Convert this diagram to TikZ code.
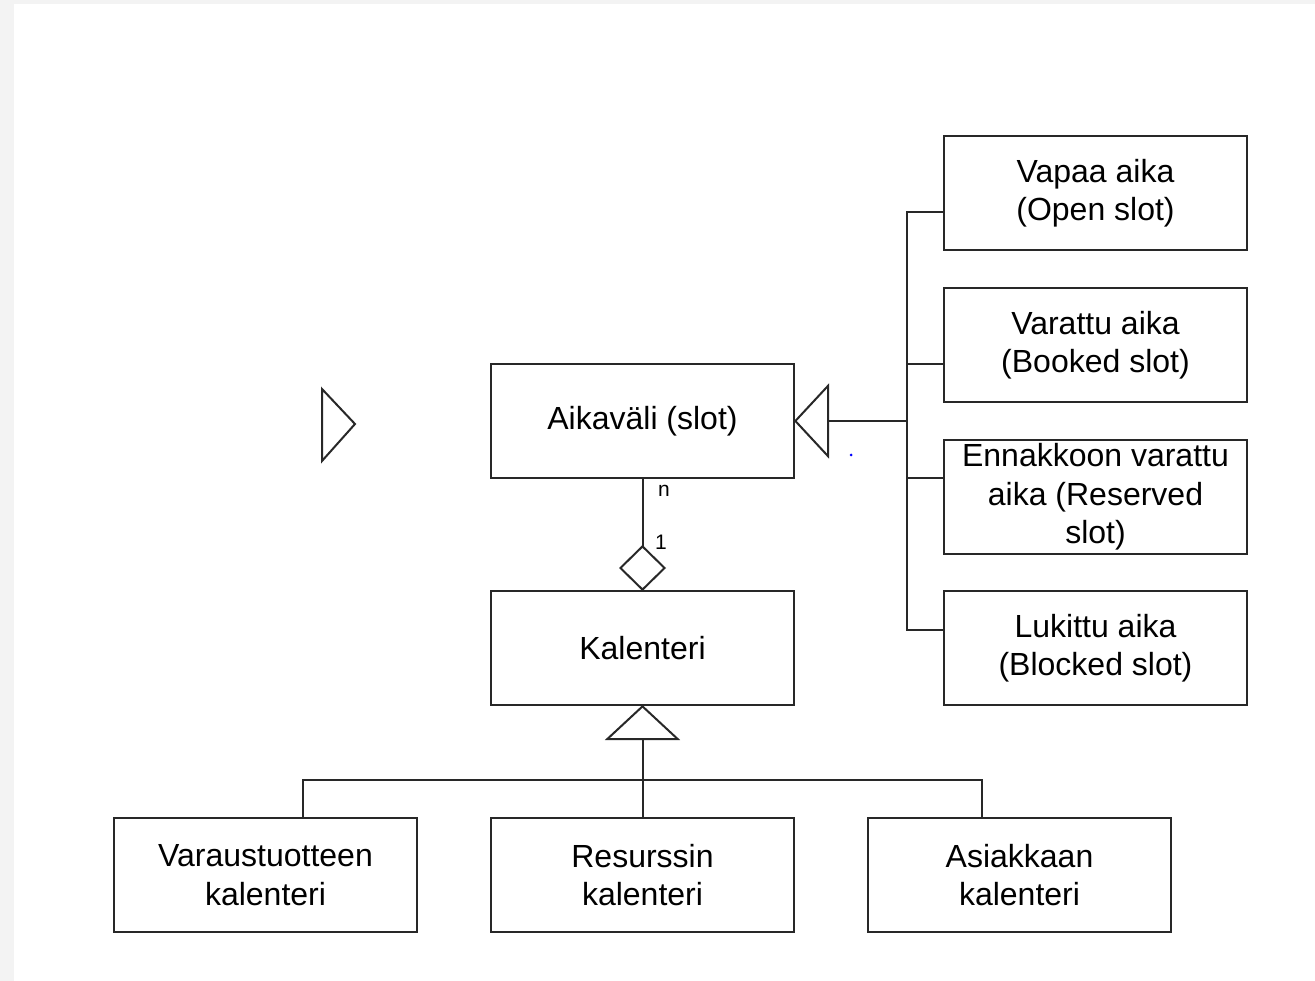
\documentclass[tikz,border=0pt]{standalone}
\usepackage{fontspec}
\setmainfont{Liberation Sans}
\usetikzlibrary{arrows.meta, positioning}
\definecolor{pagegray}{RGB}{243,243,243}
\definecolor{linecolour}{RGB}{40,40,40}

\begin{document}
\begin{tikzpicture}[x=1pt, y=-1pt,
    box/.style={rectangle, draw=linecolour, line width=2pt, fill=white, minimum width=303pt, minimum height=114pt, inner sep=0pt, outer sep=0pt, align=center, font=\fontsize{32pt}{38.5pt}\selectfont},
    line/.style={draw=linecolour, line width=2pt},
    inherit/.style={line, -{Triangle[open, length=35pt, width=75pt]}},
    aggr/.style={line, -{Diamond[open, length=46pt, width=47pt]}},
    mult/.style={font=\fontsize{21pt}{24pt}\selectfont, inner sep=0pt}
]

\useasboundingbox (0,0) rectangle (1315,981);
\fill[pagegray] (0,0) rectangle (1315,981);
\fill[white] (14,4) rectangle (1315,981);

\node[box] (slot) at (642.5,421) {Aikaväli (slot)};
\node[box, below=113pt of slot] (kalenteri) {Kalenteri};
\node[box, below=113pt of kalenteri] (resurssi) {Resurssin\\kalenteri};
\node[box, left=74pt of resurssi] (varaus) {Varaustuotteen\\kalenteri};
\node[box, right=74pt of resurssi] (asiakas) {Asiakkaan\\kalenteri};

\node[box] (vapaa) at (1095.5,193) {Vapaa aika\\(Open slot)};
\node[box, below=38pt of vapaa] (varattu) {Varattu aika\\(Booked slot)};
\node[box, below=38pt of varattu] (ennakko) {Ennakkoon varattu\\aika (Reserved\\slot)};
\node[box, below=37pt of ennakko] (lukittu) {Lukittu aika\\(Blocked slot)};

\node[mult] (nlabel) at (664,491) {n};
\node[mult] (onelabel) at (661,542) {1};

\coordinate (vapaain) at ([yshift=-19pt]vapaa.west);
\coordinate (varattuin) at ([yshift=-19pt]varattu.west);
\coordinate (ennakkoin) at ([yshift=19pt]ennakko.west);
\coordinate (lukittuin) at ([yshift=18pt]lukittu.west);
\path (vapaa.west |- slot.east) ++(-37pt,0) coordinate (bus);

\draw[line] (vapaain) -- ++(-37pt,0) |- (lukittuin);
\draw[line] (varattuin) -- ++(-37pt,0);
\draw[line] (ennakkoin) -- ++(-37pt,0);
\draw[inherit] (bus) -- (slot.east);

\draw[aggr] (slot.south) -- (kalenteri.north);

\coordinate (varausin) at ([xshift=37.5pt]varaus.north);
\coordinate (asiakasin) at ([xshift=-37.5pt]asiakas.north);
\path (resurssi.north) ++(0,38pt) coordinate (kbus);
\draw[line] (varausin) |- (kbus) -| (asiakasin);
\draw[inherit] (resurssi.north) -- (kalenteri.south);

\draw[line] (322,389) -- (355,424) -- (322,461) -- cycle;
\fill[blue] (851,455) circle (1.5pt);

\end{tikzpicture}
\end{document}
